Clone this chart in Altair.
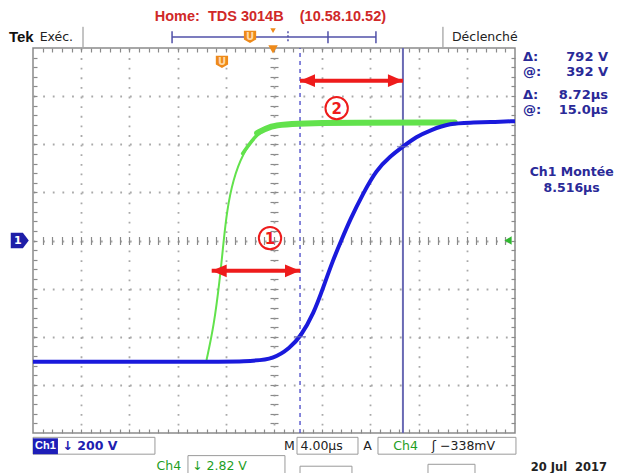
import altair as alt
import pandas as pd

# ---------------- values read from the scope screen ----------------
# time axis: 4.00 us/div, centre of screen = 0 us ; Ch1 200 V/div, Ch4 2.82 V/div
CH1_VDIV = 200.0
CH4_VDIV = 2.82

blue_t = [-20, -7, -2, 0, 1.3, 2.2, 3.3, 4.1, 4.9, 5.6, 6.3, 7.4, 8.5, 9.6, 10.7,
          11.8, 13.0, 14.6, 16.3, 17.9, 20]
blue_v = [-504, -504, -503, -492, -447, -400, -303, -193, -81, 2, 85, 196, 293, 348,
          390, 431, 459, 487, 490, 492, 496]

green_t = [-5.6, -5.0, -4.5, -4.2, -3.9, -3.4, -2.6, -1.4, -0.3, 1.3, 15.0]
green_v = [-7.0, -5.05, -2.31, -0.17, 1.78, 3.55, 5.10, 6.29, 6.71, 6.91, 6.91]

cursor_t = [2.16, 10.7]          # dashed cursor, solid cursor (us)
cursor_hit_v = [-400, 390]       # Ch1 value where the trace crosses each cursor (V)

arrow_t1 = [-5.17, 2.16]
arrow_t2 = [2.16, 10.7]
arrow_d = [-0.63, 3.32]
circle_t = [-0.33, 5.2]
circle_d = [0.05, 2.75]
circle_lbl = ["1", "2"]

readout_lbl = ["\u0394:", "@:", "\u0394:", "@:"]
readout_val = ["792 V", "392 V", "8.72\u00b5s", "15.0\u00b5s"]

x_major = [-16, -12, -8, -4, 0, 4, 8, 12, 16]
y_major = [-3, -2, -1, 0, 1, 2, 3]
x_minor = [round(-20 + 0.8 * i, 2) for i in range(1, 50)]
y_minor = [round(-4 + 0.2 * i, 2) for i in range(1, 40)]

# ---------------- layout / styles ----------------
W, H = 482, 385
xs = alt.Scale(domain=[-20, 20], nice=False, zero=False)
ys = alt.Scale(domain=[-4, 4], nice=False, zero=False)
BLUE = "#1a1adc"
GREEN = "#62e24c"
RED = "#ee1b1b"
PANEL = "#2a2a98"
GRID = "#a9a9a9"
TICK = "#8a8a8a"
NB = "\u00a0"

def X(f="t"):
    return alt.X(f"{f}:Q", scale=xs, axis=None)

def Y(f="d"):
    return alt.Y(f"{f}:Q", scale=ys, axis=None)

anchor = pd.DataFrame({"t": [0], "d": [0]})

def axis_layer(xaxis, yaxis):
    return alt.Chart(anchor).mark_point(opacity=0).encode(
        x=alt.X("t:Q", scale=xs, axis=xaxis),
        y=alt.Y("d:Q", scale=ys, axis=yaxis),
    )

def tick_axis(orient, offset, values):
    return alt.Axis(orient=orient, offset=offset, values=values, ticks=True, tickSize=4,
                    tickColor=TICK, tickWidth=1.2, labels=False, domain=False,
                    grid=False, title=None)

grid_layer = axis_layer(
    alt.Axis(orient="bottom", values=x_major, grid=True, gridColor=GRID, gridWidth=1.8,
             gridDash=[1.8, 7.82], ticks=False, labels=False, domain=False, title=None),
    alt.Axis(orient="left", values=y_major, grid=True, gridColor=GRID, gridWidth=1.8,
             gridDash=[1.8, 7.84], ticks=False, labels=False, domain=False, title=None),
)
frame_a = axis_layer(tick_axis("bottom", -H, x_minor), tick_axis("right", -W, y_minor))
frame_b = axis_layer(tick_axis("top", -H, x_minor), tick_axis("left", -W, y_minor))
centre_a = axis_layer(tick_axis("bottom", -H / 2, x_minor), tick_axis("right", -W / 2, y_minor))
centre_b = axis_layer(tick_axis("top", -H / 2, x_minor), tick_axis("left", -W / 2, y_minor))

# ---------------- traces ----------------
blue_df = pd.DataFrame({"t": blue_t, "v": blue_v})
green_df = pd.DataFrame({"t": green_t, "v": green_v})

green_thin = alt.Chart(green_df).transform_calculate(d=f"datum.v / {CH4_VDIV}").mark_line(
    color=GREEN, strokeWidth=2, interpolate="basis").encode(x=X(), y=Y())
green_mid = alt.Chart(green_df).transform_filter("datum.t >= -2.6").transform_calculate(
    d=f"datum.v / {CH4_VDIV}").mark_line(color=GREEN, strokeWidth=3.5, interpolate="basis",
                                        strokeCap="round").encode(x=X(), y=Y())
green_thick = alt.Chart(green_df).transform_filter("datum.t >= -1.4").transform_calculate(
    d=f"datum.v / {CH4_VDIV}").mark_line(color=GREEN, strokeWidth=6, interpolate="basis",
                                        strokeCap="round").encode(x=X(), y=Y())
blue_line = alt.Chart(blue_df).transform_calculate(d=f"datum.v / {CH1_VDIV}").mark_line(
    color=BLUE, strokeWidth=4, interpolate="basis").encode(x=X(), y=Y())

# ---------------- cursors ----------------
cur_df = pd.DataFrame({"t": cursor_t, "v": cursor_hit_v, "lo": [-4, -4], "hi": [4, 4]})
cursor_dashed = alt.Chart(cur_df.iloc[[0]]).mark_rule(
    color="#4848c8", strokeWidth=1.3, strokeDash=[4, 4]).encode(x=X(), y=Y("lo"), y2="hi:Q")
cursor_solid = alt.Chart(cur_df.iloc[[1]]).mark_rule(
    color="#6a6ab4", strokeWidth=2).encode(x=X(), y=Y("lo"), y2="hi:Q")
cursor_hits = alt.Chart(cur_df).transform_calculate(d=f"datum.v / {CH1_VDIV}").mark_tick(
    orient="horizontal", color="#6a6ab4", size=12, thickness=1.5).encode(x=X(), y=Y())

# ---------------- red annotations ----------------
arr_df = pd.DataFrame({"t": arrow_t1, "t2": arrow_t2, "d": arrow_d})
arrow_lines = alt.Chart(arr_df).mark_rule(color=RED, strokeWidth=4).encode(
    x=X(), x2="t2:Q", y=Y())
head_l = alt.Chart(arr_df).mark_point(
    shape="M0,0 L2,-0.85 L2,0.85 Z", filled=True, color=RED, opacity=1, size=225
).encode(x=X(), y=Y())
head_r = alt.Chart(arr_df).mark_point(
    shape="M0,0 L-2,-0.85 L-2,0.85 Z", filled=True, color=RED, opacity=1, size=225
).encode(x=X("t2"), y=Y())
circ_df = pd.DataFrame({"t": circle_t, "d": circle_d, "s": circle_lbl})
circles = alt.Chart(circ_df).mark_point(shape="circle", filled=False, color=RED,
                                         strokeWidth=2, size=500, opacity=1).encode(x=X(), y=Y())
circle_txt = alt.Chart(circ_df).mark_text(color=RED, fontSize=15, fontWeight="bold",
                                          font="DejaVu Sans", baseline="middle", dy=1).encode(
    x=X(), y=Y(), text="s:N")

# ---------------- screen furniture ----------------
def texts(rows, **kw):
    df = pd.DataFrame(rows, columns=["s", "t", "d", "c", "sz"])
    return alt.Chart(df).mark_text(baseline="middle", **kw).encode(
        x=X(), y=Y(), text="s:N", color=alt.Color("c:N", scale=None),
        size=alt.Size("sz:Q", scale=None))

bold_arial = texts([
    ["Tek", -22.0, 4.23, "#111111", 15],
], align="left", font="Liberation Sans", fontWeight="bold")
home = texts([
    ["Home:" + NB * 2 + "TDS 3014B" + NB * 4 + "(10.58.10.52)", -0.3, 4.64, "#d02828", 14.5],
], align="center", font="Liberation Sans", fontWeight="bold")
plain_left = texts([
    ["Ex\u00e9c.", -19.45, 4.23, "#222222", 12.5],
    ["D\u00e9clench\u00e9", 14.77, 4.23, "#222222", 12.5],
    ["M", 0.83, -4.27, "#222222", 12.5],
    ["4.00\u00b5s", 2.2, -4.27, "#222222", 12.5],
    ["A", 7.4, -4.27, "#222222", 12.5],
    ["Ch4", 9.9, -4.27, "#1f9e1f", 12.5],
    ["\u0283 \u2212338mV", 13.1, -4.27, "#222222", 12.5],
    ["Ch4", -9.75, -4.69, "#1f9e1f", 12.5],
    ["\u2193 2.82 V", -6.8, -4.69, "#1f9e1f", 12.5],
], align="left", font="DejaVu Sans")
bold_left = texts([
    [readout_lbl[0], 20.66, 3.81, PANEL, 13],
    [readout_lbl[1], 20.66, 3.50, PANEL, 13],
    [readout_lbl[2], 20.66, 3.02, PANEL, 13],
    [readout_lbl[3], 20.66, 2.71, PANEL, 13],
    ["\u2193 200 V", -17.55, -4.27, "#2020b0", 12.5],
    ["20 Jul" + NB * 2 + "2017", 21.3, -4.72, "#222222", 11.5],
], align="left", font="DejaVu Sans", fontWeight="bold")
ch1_label = texts([
    ["Ch1", -18.97, -4.27, "#ffffff", 11],
], align="center", font="Liberation Sans", fontWeight="bold")
bold_right = texts([
    [readout_val[0], 27.72, 3.81, PANEL, 13],
    [readout_val[1], 27.72, 3.50, PANEL, 13],
    [readout_val[2], 27.72, 3.02, PANEL, 13],
    [readout_val[3], 27.72, 2.71, PANEL, 13],
], align="right", font="DejaVu Sans", fontWeight="bold")
bold_center = texts([
    ["Ch1 Mont\u00e9e", 24.7, 1.42, PANEL, 12.5],
    ["8.516\u00b5s", 24.7, 1.09, PANEL, 12.5],
], align="center", font="DejaVu Sans", fontWeight="bold")

# boxes (outline)
box_df = pd.DataFrame({
    "t": [-20, 1.91, 8.63, -7.14, 2.16, 12.78],
    "t2": [-9.88, 6.97, 20.08, 0.91, 6.47, 16.68],
    "d": [-4.09, -4.09, -4.09, -4.47, -4.69, -4.65],
    "d2": [-4.44, -4.44, -4.44, -5.2, -5.2, -5.2],
})
boxes = alt.Chart(box_df).mark_rect(fillOpacity=0, stroke="#9a9a9a", strokeWidth=1).encode(
    x=X(), x2="t2:Q", y=Y(), y2="d2:Q")
ch1_badge = alt.Chart(pd.DataFrame({"t": [-20], "t2": [-17.93], "d": [-4.11], "d2": [-4.44]})
                      ).mark_rect(color="#1e1eb8").encode(x=X(), x2="t2:Q", y=Y(), y2="d2:Q")

# top bar separators and record bar
sep_df = pd.DataFrame({"t": [-15.85, 14.02], "d": [4.44, 4.44], "d2": [4.02, 4.02]})
seps = alt.Chart(sep_df).mark_rule(color="#8a8a8a", strokeWidth=1).encode(
    x=X(), y=Y(), y2="d2:Q")
bar_line = alt.Chart(pd.DataFrame({"t": [-8.46], "t2": [8.46], "d": [4.23]})).mark_rule(
    color="#5050a8", strokeWidth=1.5).encode(x=X(), x2="t2:Q", y=Y())
bar_ends = alt.Chart(pd.DataFrame({"t": [-8.46, 8.46, 4.48], "d": [4.35] * 3, "d2": [4.10] * 3})
                     ).mark_rule(color="#5050a8", strokeWidth=1.5).encode(x=X(), y=Y(), y2="d2:Q")
bar_dash = alt.Chart(pd.DataFrame({"t": [1.16], "d": [4.35], "d2": [4.10]})).mark_rule(
    color="#5050a8", strokeWidth=1.5, strokeDash=[2, 2]).encode(x=X(), y=Y(), y2="d2:Q")

# orange markers
orange_df = pd.DataFrame({"t": [-1.99, -4.32], "d": [4.23, 3.71]})
orange_tags = alt.Chart(orange_df).mark_point(
    shape="M-1,-1 L1,-1 L1,0.4 L0,1 L-1,0.4 Z", filled=True, color="#ee8a1a", opacity=1,
    size=150).encode(x=X(), y=Y())
orange_u = alt.Chart(orange_df).mark_text(text="U", color="#ffd9a8", fontSize=10,
                                         fontWeight="bold", font="DejaVu Sans",
                                         baseline="middle").encode(x=X(), y=Y())
trig_df = pd.DataFrame({"t": [-0.08, -0.08], "d": [3.97, 4.36], "sz": [90, 30]})
trig = alt.Chart(trig_df).mark_point(shape="triangle-down", filled=True, color="#ee8a1a",
                                     opacity=1).encode(x=X(), y=Y(),
                                                       size=alt.Size("sz:Q", scale=None))

# channel markers
ch1_mark = alt.Chart(pd.DataFrame({"t": [-21.1], "d": [0]})).mark_point(
    shape="M-1,-0.85 L0.35,-0.85 L1,0 L0.35,0.85 L-1,0.85 Z", filled=True,
    color="#1e1ea8", opacity=1, size=324).encode(x=X(), y=Y())
ch1_num = alt.Chart(pd.DataFrame({"t": [-21.25], "d": [0]})).mark_text(
    text="1", color="white", fontSize=11, fontWeight="bold", font="DejaVu Sans",
    baseline="middle").encode(x=X(), y=Y())
ch4_mark = alt.Chart(pd.DataFrame({"t": [19.42], "d": [0]})).mark_point(
    shape="triangle-left", filled=True, color="#2fb82f", opacity=1, size=70).encode(x=X(), y=Y())

chart = alt.layer(
    grid_layer, frame_a, frame_b, centre_a, centre_b,
    cursor_dashed, cursor_solid,
    green_thin, green_mid, green_thick, blue_line, cursor_hits,
    arrow_lines, head_l, head_r, circles, circle_txt,
    boxes, ch1_badge, seps, bar_line, bar_ends, bar_dash,
    orange_tags, orange_u, trig, ch1_mark, ch1_num, ch4_mark,
    bold_arial, home, plain_left, bold_left, ch1_label, bold_right, bold_center,
).resolve_axis(x="independent", y="independent").properties(
    width=W, height=H,
    autosize=alt.AutoSizeParams(type="none"),
    padding={"left": 25, "top": 40, "right": 101, "bottom": 40},
    background="white",
).configure_view(stroke="#8a8a8a", strokeWidth=1.5)

chart.save("out.html", embed_options={"renderer": "svg", "actions": False})
